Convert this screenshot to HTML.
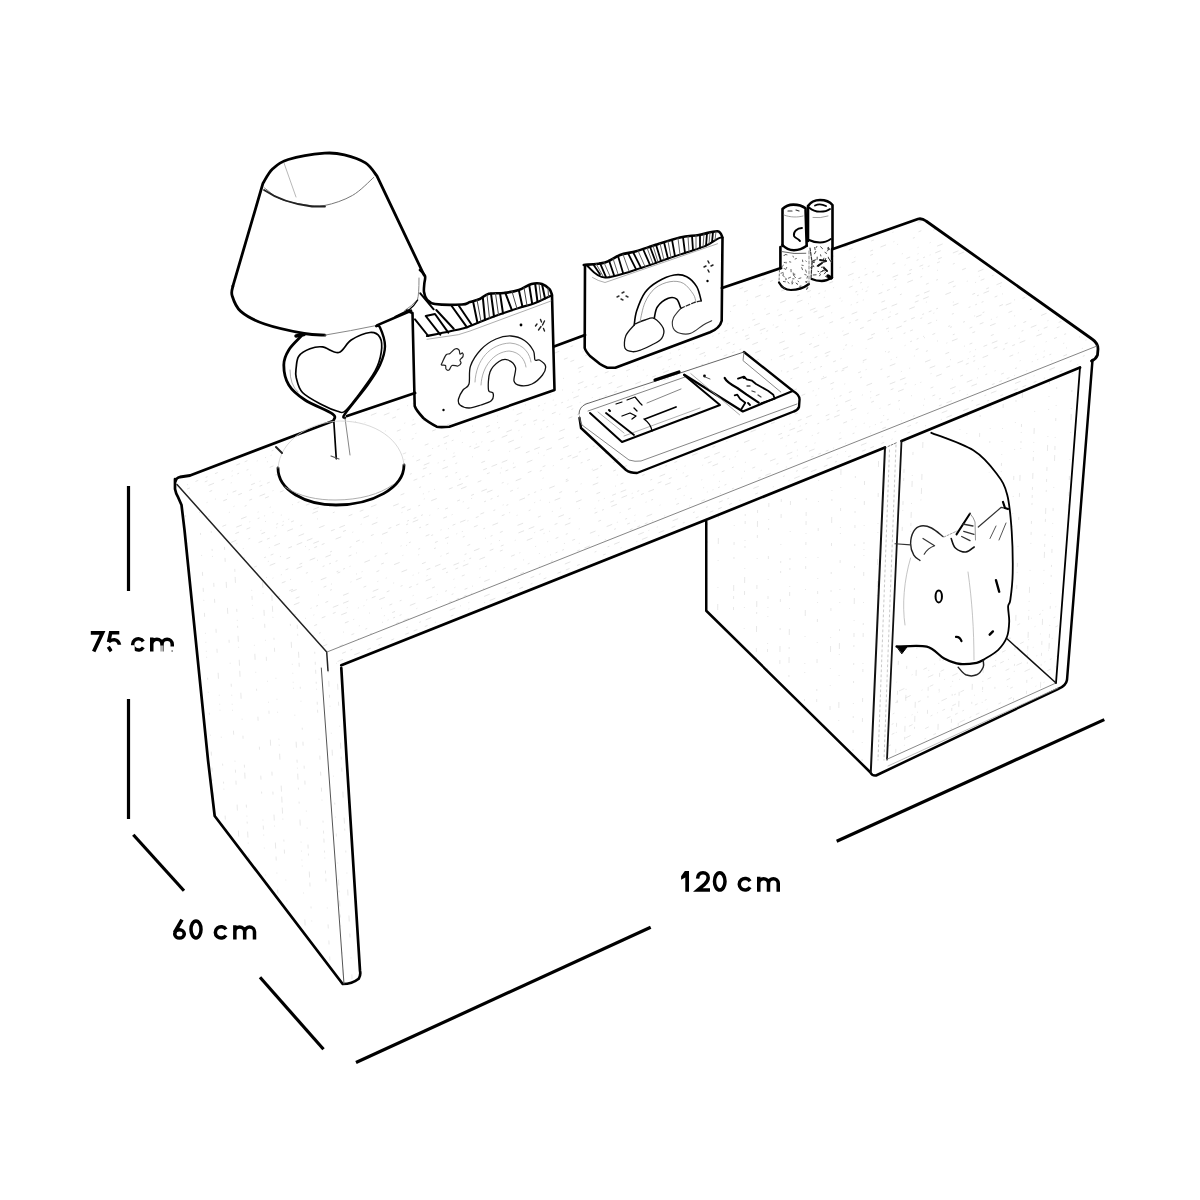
<!DOCTYPE html>
<html><head><meta charset="utf-8">
<style>
html,body{margin:0;padding:0;background:#fff;}
body{width:1200px;height:1200px;overflow:hidden;}
svg{display:block;}
.t{font-family:"Liberation Sans",sans-serif;font-weight:bold;fill:#000;}
</style></head><body>
<svg width="1200" height="1200" viewBox="0 0 1200 1200">
<rect width="1200" height="1200" fill="#fff"/>
<!-- texture -->
<defs>
<clipPath id="cTop"><path d="M176 480 L922 218 L1097 343 L1092 360 L1080 367 L341 665 L327 652 Z"/></clipPath>
<clipPath id="cLeg"><path d="M181 502 L214.7 816 L342.7 984 L358 976 L341 668 L327 652 L177 484 Z"/></clipPath>
<clipPath id="cCube"><path d="M706 521 L706 611 L871 773 L886 448 Z"/></clipPath>
<clipPath id="cIn"><path d="M900 441 L886 759 L1056 681 L1080 367 Z"/></clipPath>
</defs>
<g fill="none" stroke="#d4d4d4" stroke-width="0.6" clip-path="url(#cTop)"><path d="M150 418.9 L1120 30.0" stroke-dasharray="1 16 6 5 1 20 1 12 4 5 4 8 1 5 3 16 1 8 1 20 3 5 4 5" stroke-dashoffset="14"/><path d="M150 427.8 L1120 38.8" stroke-dasharray="4 5 4 20 3 5 1 5 4 8 2 16 1 20 1 20 2 20 6 8 1 20 4 26" stroke-dashoffset="12"/><path d="M150 433.2 L1120 44.3" stroke-dasharray="4 26 1 20 1 20 1 16 6 20 3 12 3 20 3 12 2 8 1 26 1 5 4 12" stroke-dashoffset="33"/><path d="M150 441.0 L1120 52.0" stroke-dasharray="2 26 3 12 4 5 1 20 3 8 2 8 3 16 1 26 1 20 4 12 2 26 2 20" stroke-dashoffset="31"/><path d="M150 448.5 L1120 59.5" stroke-dasharray="3 5 1 12 3 26 6 5 1 26 6 12 6 20 6 16 2 26 3 26 2 5 3 12" stroke-dashoffset="10"/><path d="M150 455.7 L1120 66.7" stroke-dasharray="3 5 1 12 1 26 1 16 3 16 1 8 3 16 4 12 1 16 4 12 6 16 2 26" stroke-dashoffset="24"/><path d="M150 464.7 L1120 75.8" stroke-dasharray="1 5 1 8 1 26 1 5 3 20 1 12 2 5 1 16 4 12 4 20 2 8 6 20" stroke-dashoffset="39"/><path d="M150 469.9 L1120 81.0" stroke-dasharray="6 5 3 26 4 16 3 16 3 5 3 26 3 5 1 5 1 16 1 5 2 20 1 5" stroke-dashoffset="0"/><path d="M150 476.4 L1120 87.4" stroke-dasharray="4 5 2 20 1 5 1 20 3 8 6 12 2 20 2 16 1 5 3 16 3 16 2 5" stroke-dashoffset="9"/><path d="M150 480.6 L1120 91.6" stroke-dasharray="2 26 2 16 6 8 4 5 1 20 2 8 6 20 1 20 2 26 1 26 2 20 2 8" stroke-dashoffset="22"/><path d="M150 491.6 L1120 102.7" stroke-dasharray="4 20 4 12 6 8 4 8 1 16 6 8 1 20 3 12 6 5 1 12 3 12 1 26" stroke-dashoffset="38"/><path d="M150 499.7 L1120 110.8" stroke-dasharray="3 26 2 12 1 8 1 8 3 8 2 8 3 20 4 5 3 26 2 26 1 26 1 16" stroke-dashoffset="12"/><path d="M150 503.9 L1120 114.9" stroke-dasharray="1 16 6 12 1 26 3 16 3 26 1 26 1 8 1 5 1 20 3 26 1 20 4 16" stroke-dashoffset="22"/><path d="M150 508.9 L1120 120.0" stroke-dasharray="4 8 1 5 6 26 1 20 6 8 3 8 1 5 2 8 2 20 1 20 2 12 4 16" stroke-dashoffset="8"/><path d="M150 515.4 L1120 126.4" stroke-dasharray="6 12 3 26 4 20 3 20 1 20 1 20 4 5 3 8 4 5 1 8 1 16 4 26" stroke-dashoffset="7"/><path d="M150 525.3 L1120 136.4" stroke-dasharray="2 26 4 20 4 16 1 20 1 8 1 12 1 5 4 16 4 5 1 16 2 20 4 20" stroke-dashoffset="32"/><path d="M150 530.2 L1120 141.2" stroke-dasharray="2 16 4 20 3 20 1 26 4 12 4 8 3 8 3 5 3 16 2 5 6 8 3 5" stroke-dashoffset="13"/><path d="M150 540.0 L1120 151.0" stroke-dasharray="1 8 6 26 6 12 1 12 1 16 1 26 1 16 3 8 6 8 1 26 3 20 3 12" stroke-dashoffset="26"/><path d="M150 544.2 L1120 155.2" stroke-dasharray="2 5 6 12 1 12 4 16 3 26 1 16 2 20 4 12 4 5 1 8 1 5 2 12" stroke-dashoffset="2"/><path d="M150 555.4 L1120 166.5" stroke-dasharray="1 12 1 16 6 12 3 8 4 20 4 16 6 12 1 12 1 26 1 16 1 12 1 26" stroke-dashoffset="5"/><path d="M150 561.8 L1120 172.8" stroke-dasharray="1 20 1 5 2 5 3 5 2 20 3 12 4 8 1 20 6 8 1 8 2 5 1 8" stroke-dashoffset="19"/><path d="M150 567.8 L1120 178.8" stroke-dasharray="4 8 2 16 4 26 1 12 2 5 2 5 1 5 6 20 4 8 4 16 1 16 1 26" stroke-dashoffset="27"/><path d="M150 574.9 L1120 186.0" stroke-dasharray="4 16 4 12 6 8 1 12 1 26 6 26 1 16 2 5 1 5 1 26 6 12 3 8" stroke-dashoffset="3"/><path d="M150 578.5 L1120 189.5" stroke-dasharray="3 20 6 12 4 8 6 12 1 16 1 8 2 16 1 12 2 12 4 12 1 5 2 8" stroke-dashoffset="22"/><path d="M150 586.1 L1120 197.1" stroke-dasharray="2 16 1 16 2 20 6 8 1 20 1 5 2 5 1 16 4 5 3 5 2 12 6 8" stroke-dashoffset="5"/><path d="M150 595.5 L1120 206.5" stroke-dasharray="4 8 6 26 4 16 2 26 3 8 2 26 4 26 1 5 6 20 6 16 6 26 4 8" stroke-dashoffset="33"/><path d="M150 603.5 L1120 214.5" stroke-dasharray="4 5 6 20 6 26 6 26 1 5 1 5 1 26 2 5 3 16 4 5 6 5 6 20" stroke-dashoffset="15"/><path d="M150 608.9 L1120 220.0" stroke-dasharray="1 16 1 26 4 20 1 26 4 5 6 26 3 12 1 12 1 26 1 8 6 26 3 16" stroke-dashoffset="24"/><path d="M150 613.5 L1120 224.5" stroke-dasharray="6 12 1 20 6 26 1 5 4 8 2 12 6 26 6 12 4 20 1 5 3 5 3 12" stroke-dashoffset="6"/><path d="M150 624.2 L1120 235.2" stroke-dasharray="6 16 2 26 4 12 3 16 3 5 4 8 2 5 3 5 2 16 1 20 3 12 3 8" stroke-dashoffset="13"/><path d="M150 627.4 L1120 238.5" stroke-dasharray="1 8 6 20 2 12 1 20 6 20 2 5 6 12 1 16 3 16 1 8 1 16 6 16" stroke-dashoffset="25"/><path d="M150 635.8 L1120 246.8" stroke-dasharray="1 16 2 16 2 5 2 5 2 12 3 5 1 26 1 26 2 12 2 5 3 16 4 5" stroke-dashoffset="23"/><path d="M150 646.6 L1120 257.6" stroke-dasharray="2 5 2 5 1 26 2 26 1 8 2 16 4 12 1 12 3 5 6 16 4 20 1 26" stroke-dashoffset="5"/><path d="M150 648.3 L1120 259.3" stroke-dasharray="6 16 3 20 1 26 2 16 1 20 1 8 3 16 2 12 2 12 6 26 6 12 3 26" stroke-dashoffset="15"/><path d="M150 656.8 L1120 267.8" stroke-dasharray="4 26 3 5 1 26 1 5 1 20 3 20 1 16 2 16 3 8 4 8 1 5 1 12" stroke-dashoffset="35"/><path d="M150 662.5 L1120 273.6" stroke-dasharray="1 12 2 20 1 5 6 16 3 16 6 20 1 16 2 12 1 16 2 20 2 8 6 20" stroke-dashoffset="33"/><path d="M150 672.8 L1120 283.8" stroke-dasharray="1 5 2 8 3 16 6 16 3 12 1 8 1 16 6 16 4 16 1 5 3 20 3 16" stroke-dashoffset="15"/><path d="M150 680.7 L1120 291.7" stroke-dasharray="1 8 1 20 6 5 6 26 6 16 1 20 1 5 1 8 4 5 6 26 2 8 6 12" stroke-dashoffset="33"/><path d="M150 686.8 L1120 297.8" stroke-dasharray="6 5 1 5 2 20 4 8 3 12 1 20 1 5 4 12 3 12 2 26 1 16 4 8" stroke-dashoffset="35"/><path d="M150 691.5 L1120 302.5" stroke-dasharray="3 26 6 12 1 5 1 16 6 26 3 5 2 8 6 16 2 8 3 5 6 12 6 16" stroke-dashoffset="23"/><path d="M150 701.1 L1120 312.1" stroke-dasharray="1 5 2 26 4 5 1 16 1 12 1 8 3 8 2 12 1 20 3 20 1 8 3 16" stroke-dashoffset="3"/><path d="M150 709.7 L1120 320.7" stroke-dasharray="1 16 1 8 1 20 1 16 1 26 1 8 3 16 6 12 6 5 1 8 2 8 1 26" stroke-dashoffset="33"/><path d="M150 715.5 L1120 326.5" stroke-dasharray="1 12 6 26 3 12 2 16 1 5 1 5 2 5 2 16 1 20 1 16 2 12 3 5" stroke-dashoffset="3"/><path d="M150 722.2 L1120 333.3" stroke-dasharray="1 12 4 16 1 12 2 26 3 5 6 16 1 26 3 5 3 5 3 5 1 12 1 26" stroke-dashoffset="4"/><path d="M150 730.4 L1120 341.4" stroke-dasharray="2 12 2 12 4 5 2 26 6 26 2 12 2 5 6 20 6 5 1 8 1 16 6 16" stroke-dashoffset="24"/><path d="M150 736.7 L1120 347.8" stroke-dasharray="3 16 1 16 1 5 6 12 6 8 4 8 2 12 3 12 4 5 4 8 3 8 1 16" stroke-dashoffset="4"/><path d="M150 742.9 L1120 353.9" stroke-dasharray="3 20 4 12 1 16 1 5 2 20 1 8 1 16 3 26 3 8 1 8 3 16 4 26" stroke-dashoffset="15"/><path d="M150 750.5 L1120 361.5" stroke-dasharray="6 5 2 12 2 20 2 12 2 26 2 8 3 8 1 8 1 8 2 20 1 12 1 16" stroke-dashoffset="16"/><path d="M150 759.0 L1120 370.0" stroke-dasharray="4 20 1 26 1 26 3 5 1 5 3 8 3 12 1 12 1 5 1 8 4 20 1 5" stroke-dashoffset="23"/><path d="M150 763.1 L1120 374.1" stroke-dasharray="1 16 4 12 6 5 1 26 4 26 4 12 1 5 2 12 1 5 1 12 1 20 6 26" stroke-dashoffset="13"/><path d="M150 771.9 L1120 382.9" stroke-dasharray="2 16 6 12 1 20 2 5 1 5 3 20 3 5 3 5 3 26 4 8 6 20 1 26" stroke-dashoffset="10"/><path d="M150 776.4 L1120 387.4" stroke-dasharray="2 16 2 26 2 16 1 12 6 20 2 16 3 5 2 26 1 16 6 16 1 5 3 8" stroke-dashoffset="27"/><path d="M150 781.7 L1120 392.7" stroke-dasharray="1 16 4 12 3 8 1 5 1 20 1 26 3 5 4 20 2 26 4 8 1 12 2 8" stroke-dashoffset="33"/><path d="M150 789.0 L1120 400.1" stroke-dasharray="1 5 3 16 1 12 1 5 3 12 1 20 6 16 1 26 4 26 1 26 1 20 3 20" stroke-dashoffset="12"/><path d="M150 800.0 L1120 411.0" stroke-dasharray="1 20 1 5 3 20 1 16 2 5 1 8 6 8 1 20 6 5 6 12 1 16 4 16" stroke-dashoffset="35"/><path d="M150 807.1 L1120 418.1" stroke-dasharray="2 26 3 12 4 8 3 16 6 12 3 20 3 8 1 5 4 16 3 8 3 20 3 8" stroke-dashoffset="30"/><path d="M150 811.4 L1120 422.4" stroke-dasharray="1 8 2 16 2 5 3 20 4 26 1 5 6 8 1 26 2 26 4 5 1 20 3 26" stroke-dashoffset="8"/><path d="M150 816.2 L1120 427.2" stroke-dasharray="1 20 6 26 1 8 1 16 2 8 6 26 1 5 2 20 2 8 2 20 2 16 1 12" stroke-dashoffset="32"/><path d="M150 828.8 L1120 439.8" stroke-dasharray="3 8 4 12 4 20 1 12 2 5 1 8 3 8 6 12 6 12 3 8 2 5 4 5" stroke-dashoffset="40"/><path d="M150 835.1 L1120 446.2" stroke-dasharray="3 20 4 20 6 5 2 20 6 16 6 12 2 16 2 20 1 12 2 5 3 8 1 20" stroke-dashoffset="3"/></g>
<g fill="none" stroke="#d8d8d8" stroke-width="0.6" clip-path="url(#cLeg)"><path d="M183.8 480 L208.8 990" stroke-dasharray="4 12 2 26 4 26 2 26 1 26 1 8 1 12 4 26 3 16 4 12 1 8 3 8" stroke-dashoffset="39"/><path d="M197.9 480 L222.9 990" stroke-dasharray="1 5 1 20 2 12 1 20 2 20 1 16 4 12 4 8 1 12 4 16 1 8 1 8" stroke-dashoffset="9"/><path d="M208.7 480 L233.7 990" stroke-dasharray="1 26 1 26 2 16 2 5 1 26 4 12 4 26 4 16 4 20 6 16 1 8 1 5" stroke-dashoffset="3"/><path d="M221.2 480 L246.2 990" stroke-dasharray="3 8 1 8 1 5 1 20 4 26 1 8 3 8 4 20 6 20 6 26 3 20 1 20" stroke-dashoffset="19"/><path d="M230.4 480 L255.4 990" stroke-dasharray="6 5 6 16 6 20 1 16 3 26 3 5 6 26 3 8 1 5 2 8 6 5 1 12" stroke-dashoffset="16"/><path d="M246.3 480 L271.3 990" stroke-dasharray="2 26 4 26 3 26 4 12 2 26 1 5 4 5 1 12 1 26 1 8 6 12 1 16" stroke-dashoffset="21"/><path d="M257.6 480 L282.6 990" stroke-dasharray="3 26 6 26 4 16 3 20 6 5 1 16 6 8 4 12 1 16 4 20 1 20 1 8" stroke-dashoffset="2"/><path d="M266.2 480 L291.2 990" stroke-dasharray="1 20 1 12 1 26 1 5 1 8 6 26 6 5 6 5 6 5 1 20 2 8 4 26" stroke-dashoffset="4"/><path d="M283.3 480 L308.3 990" stroke-dasharray="6 16 1 8 1 8 1 5 1 26 1 26 6 12 3 5 1 5 6 8 2 12 2 16" stroke-dashoffset="16"/><path d="M290.1 480 L315.1 990" stroke-dasharray="2 12 1 26 2 12 4 20 3 12 4 26 1 16 1 16 4 5 2 16 6 5 4 20" stroke-dashoffset="13"/><path d="M306.3 480 L331.3 990" stroke-dasharray="1 20 2 8 3 5 4 8 2 5 1 12 3 5 3 26 1 16 4 12 4 12 4 8" stroke-dashoffset="18"/><path d="M318.9 480 L343.9 990" stroke-dasharray="6 8 3 8 1 26 1 16 6 20 1 26 2 12 1 16 3 26 1 16 6 5 2 8" stroke-dashoffset="19"/><path d="M327.6 480 L352.6 990" stroke-dasharray="4 20 1 16 6 8 3 8 4 20 6 20 6 5 2 20 2 20 1 16 6 20 6 12" stroke-dashoffset="10"/><path d="M340.8 480 L365.8 990" stroke-dasharray="6 12 4 8 1 12 3 26 6 8 4 8 2 12 6 20 1 26 1 8 6 12 4 20" stroke-dashoffset="22"/></g>
<g fill="none" stroke="#d8d8d8" stroke-width="0.6" clip-path="url(#cCube)"><path d="M708.0 440 L705.0 780" stroke-dasharray="2 8 2 26 1 8 6 5 1 16 1 8 2 26 2 16 2 8 1 26 1 12 1 16" stroke-dashoffset="29"/><path d="M719.2 440 L716.2 780" stroke-dasharray="3 16 6 8 4 26 2 16 1 8 2 20 6 16 1 26 1 16 6 20 4 26 6 16" stroke-dashoffset="14"/><path d="M735.0 440 L732.0 780" stroke-dasharray="6 26 6 20 1 26 1 26 1 16 3 12 2 26 6 5 3 8 3 26 6 26 1 12" stroke-dashoffset="27"/><path d="M745.9 440 L742.9 780" stroke-dasharray="1 20 3 20 6 26 1 26 2 5 3 16 1 5 2 20 1 8 6 8 4 12 1 20" stroke-dashoffset="29"/><path d="M758.2 440 L755.2 780" stroke-dasharray="6 16 4 5 6 12 4 12 3 26 3 8 6 8 3 20 1 26 4 12 6 5 2 12" stroke-dashoffset="24"/><path d="M769.4 440 L766.4 780" stroke-dasharray="1 5 3 16 6 26 6 12 4 12 1 8 2 26 3 20 1 16 3 8 1 8 1 26" stroke-dashoffset="12"/><path d="M781.8 440 L778.8 780" stroke-dasharray="4 26 1 8 2 26 6 16 3 12 4 26 1 16 2 8 2 26 3 26 2 16 6 8" stroke-dashoffset="30"/><path d="M791.0 440 L788.0 780" stroke-dasharray="6 12 2 8 6 12 2 16 3 16 4 26 1 26 2 8 2 16 1 5 4 12 1 20" stroke-dashoffset="22"/><path d="M806.8 440 L803.8 780" stroke-dasharray="1 26 1 8 1 26 2 12 4 5 4 8 1 8 3 12 1 8 3 20 1 20 6 20" stroke-dashoffset="5"/><path d="M819.0 440 L816.0 780" stroke-dasharray="4 26 2 8 3 26 1 20 1 26 3 26 1 20 1 12 3 8 1 16 3 20 1 16" stroke-dashoffset="29"/><path d="M832.4 440 L829.4 780" stroke-dasharray="6 16 1 16 1 20 4 26 1 8 2 16 6 20 3 26 2 16 2 16 3 26 1 8" stroke-dashoffset="40"/><path d="M841.2 440 L838.2 780" stroke-dasharray="6 5 1 20 1 26 6 12 1 20 3 16 1 5 1 26 3 26 1 12 1 26 2 12" stroke-dashoffset="30"/><path d="M855.7 440 L852.7 780" stroke-dasharray="4 8 2 16 2 16 2 20 1 12 2 12 3 16 2 20 2 20 2 8 6 16 1 12" stroke-dashoffset="12"/><path d="M864.9 440 L861.9 780" stroke-dasharray="2 8 4 26 1 5 3 26 4 16 4 20 1 16 2 5 1 5 1 16 4 26 1 20" stroke-dashoffset="34"/><path d="M878.7 440 L875.7 780" stroke-dasharray="4 8 6 26 6 26 4 26 1 8 1 26 6 16 6 8 1 26 1 5 3 5 6 5" stroke-dashoffset="23"/></g>
<g fill="none" stroke="#d8d8d8" stroke-width="0.6" clip-path="url(#cIn)"><path d="M907.2 360 L895.2 770" stroke-dasharray="1 12 4 26 2 12 1 16 1 12 1 16 4 26 4 5 3 20 4 5 1 16 4 26" stroke-dashoffset="25"/><path d="M915.7 360 L903.7 770" stroke-dasharray="1 26 3 20 4 26 1 16 3 20 1 5 6 16 1 8 6 5 3 5 1 26 6 5" stroke-dashoffset="5"/><path d="M925.3 360 L913.3 770" stroke-dasharray="1 8 3 5 2 26 4 8 3 26 6 8 1 12 6 26 6 8 6 5 2 26 4 26" stroke-dashoffset="31"/><path d="M937.8 360 L925.8 770" stroke-dasharray="2 5 6 5 1 5 1 26 6 20 1 16 2 12 6 20 1 16 4 5 2 12 4 26" stroke-dashoffset="28"/><path d="M948.8 360 L936.8 770" stroke-dasharray="1 8 1 12 6 8 6 16 3 16 3 12 4 12 2 12 1 20 6 26 4 12 4 26" stroke-dashoffset="0"/><path d="M962.0 360 L950.0 770" stroke-dasharray="4 12 4 16 1 16 3 26 3 20 1 16 2 26 1 12 2 12 3 8 4 5 2 8" stroke-dashoffset="36"/><path d="M968.9 360 L956.9 770" stroke-dasharray="4 26 3 12 4 5 4 20 3 16 1 26 1 12 4 5 6 16 3 26 1 12 4 5" stroke-dashoffset="24"/><path d="M981.8 360 L969.8 770" stroke-dasharray="1 20 2 5 1 16 4 20 2 20 2 16 4 20 1 8 1 8 1 8 6 12 2 20" stroke-dashoffset="36"/><path d="M992.2 360 L980.2 770" stroke-dasharray="4 8 1 5 3 12 1 12 6 16 1 8 2 20 1 12 2 20 4 5 1 5 1 20" stroke-dashoffset="31"/><path d="M1004.5 360 L992.5 770" stroke-dasharray="1 12 2 16 1 16 4 20 1 12 1 12 1 8 3 5 1 5 1 20 2 26 3 16" stroke-dashoffset="4"/><path d="M1017.2 360 L1005.2 770" stroke-dasharray="6 16 1 26 1 12 2 20 1 26 1 26 4 16 1 16 1 12 1 26 1 8 1 12" stroke-dashoffset="22"/><path d="M1023.4 360 L1011.4 770" stroke-dasharray="4 5 1 12 4 26 6 26 3 5 1 8 2 5 1 26 6 12 4 20 3 26 1 16" stroke-dashoffset="20"/><path d="M1036.2 360 L1024.2 770" stroke-dasharray="3 5 2 16 3 8 3 8 1 26 1 16 6 8 1 8 1 5 4 12 6 8 3 5" stroke-dashoffset="24"/><path d="M1050.1 360 L1038.1 770" stroke-dasharray="6 5 3 12 2 8 3 5 6 12 1 12 1 26 1 8 6 16 4 8 3 8 2 16" stroke-dashoffset="26"/><path d="M1057.5 360 L1045.5 770" stroke-dasharray="1 12 4 12 2 8 2 16 1 12 3 16 1 8 4 5 6 26 1 20 3 12 1 12" stroke-dashoffset="12"/><path d="M1072.8 360 L1060.8 770" stroke-dasharray="3 12 1 8 1 16 2 16 1 5 6 12 1 26 1 16 4 12 4 8 3 5 4 12" stroke-dashoffset="11"/><path d="M880 690 L1070 600" stroke-dasharray="2 16 1 16 1 12 4 8 1 8 4 8 6 8 1 20 1 5 4 26 3 12 1 8"/><path d="M880 700 L1070 610" stroke-dasharray="1 20 6 26 6 8 4 12 1 5 1 26 6 20 3 26 1 20 2 12 2 26 3 5"/><path d="M880 710 L1070 620" stroke-dasharray="1 16 3 8 6 12 1 8 4 12 1 8 6 12 4 20 1 12 4 16 4 5 1 12"/><path d="M880 720 L1070 630" stroke-dasharray="6 8 2 26 3 20 1 12 1 26 3 16 4 5 4 20 1 5 1 5 1 20 1 8"/><path d="M880 730 L1070 640" stroke-dasharray="1 12 2 20 1 5 1 26 6 8 2 5 4 26 4 16 4 8 6 16 1 12 1 26"/><path d="M880 740 L1070 650" stroke-dasharray="1 5 2 5 3 16 4 20 2 5 1 5 3 8 4 20 1 8 1 26 4 16 6 16"/><path d="M880 750 L1070 660" stroke-dasharray="1 5 6 16 6 16 4 20 4 5 3 5 2 12 3 8 2 26 3 20 2 16 4 5"/><path d="M880 760 L1070 670" stroke-dasharray="2 20 1 26 2 8 3 26 6 5 2 5 4 8 1 12 3 8 4 26 1 8 1 16"/></g>
<g fill="#fff" stroke="none"><ellipse cx="341" cy="463" rx="63" ry="42"/><path d="M412.5 313 L424 292 L552 290 L554.5 390 L436 427 L414.7 406 Z"/><path d="M585 265 L722.5 231 L721.7 320.7 L607 368 L584.7 348 Z"/><path d="M779 208 L793 204 L808 203 L820 199 L833 204 L832 278 L821 281 L809 284 L791 291 L779 283 Z"/><path d="M579 412 L744 352 L800 397 L799 407 L637 473 L581 428 Z"/><path d="M931 433 C975 445 1005 480 1013 537 L1013 583 L1008 637 L983 660 L978 674 L966 674 L959 667 L927 646 L898 648 L900 544 L910 546 L917 530 Z"/></g>
<!-- dimension lines -->
<g stroke="#000" stroke-width="3.2" fill="none" stroke-linecap="butt">
<path d="M128.5 486 V591 M128.5 699 V819"/>
<path d="M133.3 834.7 L184 890.7"/>
<path d="M260 977.3 L323.5 1049.3"/>
<path d="M356 1062.5 L650.7 927.3"/>
<path d="M836.7 841.3 L1104.3 719.6"/>
</g>
<!-- desk -->
<g id="desk" stroke="#000" stroke-width="2.7" fill="none" stroke-linejoin="round" stroke-linecap="round">
<!-- back edge segments -->
<path d="M175.5 481 Q176 478 180 477 L190 475.5 L333 421 M347 416 L415 393" stroke-width="2.8"/>
<path d="M554 346.5 L585 335" stroke-width="2.8"/>
<path d="M722 288 L781 268" stroke-width="2.8"/>
<path d="M833 249 L918 219 Q922 218 926 221 L1092 339 Q1098 343 1098 349 L1097.5 355 Q1096 359 1091.5 361" stroke-width="2.8"/>
<!-- left leg -->
<path d="M175 479 L175 489 Q176 494 178 497 L181.5 505 L184.5 530 L208 760 L214.7 816 L342.7 984 Q352 984 358.7 978.7 Q361 975 360 970.7 L346.7 760 L341.3 668"/>
<path d="M177 484.5 L326.7 652 L328 670.7" stroke-width="1.5" stroke="#222"/>
<path d="M321.3 668 L344 984" stroke-width="1" stroke="#555"/>
<!-- front apron bottom -->
<path d="M341.3 665.3 L706.25 519.75 L885 447.5 M901.5 441 L1080 367.5"/><path d="M888 446.5 L897 442.5" stroke-width="1" stroke="#777" stroke-dasharray="2 1.5"/>
<path d="M327 652 L1097 346" stroke-width="0.9" stroke="#777"/>
<!-- cube -->
<path d="M706.25 521.5 L706.25 610.75 L870 772 Q872 776 876 775.5 L1058 689 Q1066 686 1067 680 L1092.5 360" stroke-width="2.5"/>
<path d="M885 447.5 L870.8 772" stroke-width="2" stroke="#111"/>
<path d="M901.5 441 L887 759.5" stroke-width="1.8" stroke="#111"/><path d="M889.5 450 L878 760 M896 445 L884 760" stroke-width="0.8" stroke="#bbb" stroke-dasharray="2 3"/><path d="M886.5 759.5 L1056 683" stroke-width="1" stroke="#888"/><path d="M888 766 L1058 688" stroke-width="0.8" stroke="#aaa"/><path d="M1056 683 L1080 367.5" stroke-width="1.8"/>
<path d="M1007 638.75 L1056 683" stroke-width="1.5" stroke="#111"/>
</g>
<!-- lamp -->
<g id="lamp" stroke="#000" fill="none" stroke-linejoin="round" stroke-linecap="round">
<path d="M232.9 286.1 L263 183.2 C264.6 180.8 268.3 172.9 272.5 169.0 C276.7 165.1 279.6 162.1 288.3 159.5 C297.0 156.9 315.4 154.0 324.7 153.2 C334.0 152.4 337.6 153.2 344.4 154.8 C351.2 156.4 360.1 159.4 365.5 162.9 C370.9 166.4 375.0 173.7 376.9 175.9 L424 275" stroke-width="2.8"/>
<path d="M232.9 286.1 C232.8 287.7 230.8 291.4 232.1 295.6 C233.4 299.8 235.4 306.7 240.8 311.4 C246.2 316.1 254.1 320.3 264.6 324.0 C275.2 327.7 294.0 331.6 304.1 333.5 C314.2 335.4 321.5 334.8 325.0 335.1" stroke-width="2.8"/>
<path d="M325 335.1 Q350 331 376.9 325.4" stroke-width="1" stroke="#888"/>
<path d="M419 278 Q419 295 417.5 299.4 Q412 306 404.5 310.7" stroke-width="1" stroke="#888"/>
<path d="M376.9 325.4 L411 310.7" stroke-width="2.6"/>
<path d="M264.6 188.0 C267.2 189.8 273.8 196.2 280.4 199.0 C287.0 201.8 296.7 203.5 304.1 204.6 C311.5 205.7 316.9 206.9 325.0 205.4 C333.1 203.9 344.4 200.1 352.5 195.4 C360.6 190.8 370.1 180.5 373.6 177.5" stroke-width="1.0" stroke="#777"/>
<path d="M264 190 Q283 203 312 206.5 L325 206.5" stroke-width="1.8" stroke="#222"/>
<path d="M284 163 L296 197" stroke-width="0.7" stroke="#999"/>
<path d="M301.2 336.2 C299.2 338.5 291.7 345.2 288.8 350.0 C285.8 354.8 283.8 359.2 283.8 365.0 C283.8 370.8 285.2 379.2 288.8 385.0 C292.3 390.8 297.7 395.2 305.0 400.0 C312.3 404.8 327.7 410.4 332.5 413.8 C337.3 417.1 333.5 419.0 333.8 420.0" stroke-width="2.8"/>
<path d="M345.0 418.0 C345.0 417.3 341.2 419.2 345.0 413.8 C348.8 408.2 361.7 393.1 367.5 385.0 C373.3 376.9 377.1 371.5 380.0 365.0 C382.9 358.5 385.0 352.5 385.0 346.2 C385.0 340.0 381.5 330.8 380.0 327.5 C378.5 324.2 376.9 326.5 376.2 326.2" stroke-width="2.4"/>
<path d="M296 336 L304 334.5" stroke-width="3.5"/>
<path d="M296.2 367.5 C296.7 364.0 296.5 359.4 298.8 356.2 C301.0 353.1 306.0 350.3 310.0 348.8 C314.0 347.2 317.7 346.3 322.5 346.9 C327.3 347.5 334.0 353.6 338.8 352.5 C343.5 351.4 346.0 343.3 351.2 340.0 C356.5 336.7 365.2 332.9 370.0 332.5 C374.8 332.1 378.1 334.2 380.0 337.5 C381.9 340.8 382.1 346.9 381.2 352.5 C380.4 358.1 379.0 364.0 375.0 371.2 C371.0 378.5 362.5 389.6 357.5 396.2 C352.5 402.9 348.3 408.8 345.0 411.2 C341.7 413.8 341.2 412.3 337.5 411.2 C333.8 410.2 328.3 408.1 322.5 405.0 C316.7 401.9 306.9 397.1 302.5 392.5 C298.1 387.9 297.3 381.7 296.2 377.5 C295.2 373.3 295.8 371.0 296.2 367.5 Z" stroke-width="1.7"/>
<path d="M290 370 Q290 385 298 392" stroke-width="0.8" stroke="#999"/>
<path d="M333.75 420 L336.25 458.75" stroke-width="1.7"/>
<path d="M345 418 L350 455" stroke-width="0.9" stroke="#777"/>
<path d="M331 456 L339 459" stroke-width="1.2" stroke="#555"/>
<path d="M278 468 C278 490 305 505 336 505 C372 505 404 488 404 465" stroke-width="2.8"/>
<path d="M278 468 C280 440 310 422 340 421 C375 421 402 440 404 465" stroke-width="0.8" stroke="#cfcfcf"/>
<path d="M285 487 C300 497 318 500 335 500 C360 500 380 494 392.5 485" stroke-width="0.8" stroke="#999"/>
<path d="M276 447 L282 453" stroke-width="2" stroke="#222"/>
</g>
<!-- basket 1 -->
<g id="b1" stroke="#000" fill="none" stroke-linejoin="round" stroke-linecap="round">
<path d="M420.0 270.0 C420.8 271.0 424.3 273.7 425.0 276.0 C425.7 278.3 424.5 281.3 424.3 284.0 C424.1 286.7 423.6 289.4 424.0 292.0 C424.4 294.6 425.2 297.5 427.0 299.5 C428.8 301.5 429.2 303.2 435.0 304.0 C440.8 304.8 456.2 304.8 462.0 304.5 C467.8 304.2 467.0 302.9 470.0 302.0 C473.0 301.1 476.6 300.4 479.8 299.0 C482.9 297.6 484.8 294.8 488.8 293.8 C492.8 292.8 498.8 293.6 503.8 293.0 C508.8 292.4 514.1 291.5 518.8 290.0 C523.4 288.5 527.6 285.0 531.5 284.0 C535.4 283.0 539.0 283.1 542.0 284.0 C545.0 284.9 547.8 287.4 549.5 289.2 C551.2 291.1 551.6 294.0 552.0 295.0 L554.5 390 L480 416 L449.3 426.7 Q440 427.5 436.7 426.7 Q428 422 423.3 418 Q416 410 414.7 406 L412.5 313 L407 310.7" stroke-width="2.6"/>
<path d="M427.0 336.0 C432.8 334.8 454.5 330.4 461.7 328.7 C468.9 327.0 464.9 327.9 470.0 326.0 C475.1 324.1 484.4 320.0 492.5 317.0 C500.6 314.0 511.9 310.2 518.8 308.0 C525.6 305.8 528.2 305.6 533.8 303.5 C539.3 301.4 549.0 296.6 552.0 295.2" stroke-width="2.2"/>
<path d="M427 339.3 L458.3 334.7 L470 331 L551 301" stroke-width="0.8" stroke="#999"/>
<path d="M417.7 300 Q414 306 409.7 309.3 L395 316.7" stroke-width="1.4"/>
<path d="M415 319.3 L428.3 336 M425.7 316 L440.3 334.7 M425.7 316 L435 314 L448.3 332.7 M436.3 310 L453.7 328.7 M451.7 306 L467 327.3 M459 306 L471.7 324.7 M420.3 293.3 L433.7 309.3" stroke-width="2"/>
<path d="M473.0 301.1 L477.5 323.0 M482.8 297.2 L485.0 320.0 M491.0 293.6 L494.0 316.5 M500.0 293.2 L503.0 313.4 M505.2 292.7 L512.0 310.3 M518.8 290.0 L522.5 306.9 M529.2 285.1 L532.2 303.9 M535.2 284.0 L537.5 301.8 M542.0 284.0 L545.0 298.4 " stroke-width="2.0" stroke="#000"/>
<path d="M477.0 299.8 L481.0 321.6 M487.0 294.8 L489.5 318.2 M495.5 293.4 L498.5 314.9 M512.0 291.4 L517.0 308.6 M524.0 287.5 L527.0 305.5 M539.0 284.0 L541.0 300.2 M548.0 288.2 L548.5 296.8 " stroke-width="1.0" stroke="#444"/>
<path d="M469.0 384.0 C470.2 380.0 468.5 371.8 470.5 366.0 C472.5 360.2 476.8 354.0 481.0 349.5 C485.2 345.0 491.0 341.2 496.0 339.0 C501.0 336.8 506.2 335.8 511.0 336.0 C515.8 336.2 520.8 338.0 524.5 340.5 C528.2 343.0 531.8 347.8 533.5 351.0 C535.2 354.2 534.0 358.5 535.0 360.0 C536.0 361.5 537.8 359.0 539.5 360.0 C541.2 361.0 545.0 363.5 545.5 366.0 C546.0 368.5 544.8 372.0 542.5 375.0 C540.2 378.0 535.8 382.2 532.0 384.0 C528.2 385.8 523.0 386.0 520.0 385.5 C517.0 385.0 514.8 384.0 514.0 381.0 C513.2 378.0 516.5 371.0 515.5 367.5 C514.5 364.0 510.8 361.0 508.0 360.0 C505.2 359.0 502.0 359.5 499.0 361.5 C496.0 363.5 491.8 367.2 490.0 372.0 C488.2 376.8 488.0 386.5 488.5 390.0 C489.0 393.5 492.5 391.2 493.0 393.0 C493.5 394.8 493.5 398.5 491.5 400.5 C489.5 402.5 484.8 403.8 481.0 405.0 C477.2 406.2 472.5 408.0 469.0 408.0 C465.5 408.0 461.8 406.5 460.0 405.0 C458.2 403.5 458.0 401.5 458.5 399.0 C459.0 396.5 461.2 392.5 463.0 390.0 C464.8 387.5 467.8 388.0 469.0 384.0 Z" stroke-width="1.3" stroke="#111"/>
<path d="M475 382 C476 360 490 344 510 343 C525 344 530 355 531 362 M481 385 C482 366 494 352 509 351 C520 352 525 360 526 367" stroke-width="0.8" stroke="#999"/>
<path d="M442.0 363.0 C442.8 361.3 444.7 356.6 446.0 355.0 C447.3 353.4 448.5 354.5 450.0 353.5 C451.5 352.5 453.5 349.6 455.0 349.0 C456.5 348.4 458.2 349.2 459.0 350.0 C459.8 350.8 459.4 353.5 460.0 354.0 C460.6 354.5 462.0 352.6 462.5 353.0 C463.0 353.4 463.4 355.3 463.0 356.5 C462.6 357.7 460.3 358.9 460.0 360.0 C459.7 361.1 461.3 362.0 461.0 363.0 C460.7 364.0 459.5 365.6 458.0 366.0 C456.5 366.4 453.5 364.8 452.0 365.5 C450.5 366.2 450.0 369.4 449.0 370.0 C448.0 370.6 446.6 369.8 446.0 369.0 C445.4 368.2 446.2 366.2 445.5 365.5 C444.8 364.8 442.1 365.4 441.5 365.0 C440.9 364.6 441.2 364.7 442.0 363.0 Z" stroke-width="1.2" stroke="#222"/>
<path d="M540.5 319.5 L541.5 322 M544.5 321 L542.5 325 M541 326.5 L538.5 330 M537 324 L535.5 326 M543.5 328.5 L544.5 331" stroke-width="1.4" stroke="#222"/>
<circle cx="521" cy="325" r="1.4" fill="#000" stroke="none"/>
<circle cx="443.5" cy="410" r="1.2" fill="#000" stroke="none"/>
</g>
<!-- basket 2 -->
<g id="b2" stroke="#000" fill="none" stroke-linejoin="round" stroke-linecap="round">
<path d="M583.8 265.0 C587.3 264.6 599.0 264.2 605.0 262.5 C611.0 260.8 614.8 256.9 620.0 255.0 C625.2 253.1 630.4 252.9 636.2 251.2 C642.1 249.6 647.7 247.3 655.0 245.0 C662.3 242.7 672.7 239.2 680.0 237.5 C687.3 235.8 692.5 236.0 698.8 235.0 C705.0 234.0 713.5 230.8 717.5 231.2 C721.5 231.7 721.7 236.5 722.5 237.5 L721.7 320.7 Q720 328 710 332.3 L615.3 367.7 L607.3 367.7 Q603 366 600 364 L590 356 Q585.5 351 584.7 348 L585 265" stroke-width="2.6"/>
<path d="M587.5 266.2 C590.4 268.1 595.8 277.3 605.0 277.5 C614.2 277.7 632.1 270.6 642.5 267.5 C652.9 264.4 660.2 261.2 667.5 258.8 C674.8 256.2 680.0 254.6 686.2 252.5 C692.5 250.4 699.8 248.5 705.0 246.2 C710.2 244.0 714.6 240.2 717.5 238.8 C720.4 237.3 721.7 237.7 722.5 237.5" stroke-width="2.0"/>
<path d="M592.5 277.5 Q598 281 605 282.5 L717.5 243.75" stroke-width="0.8" stroke="#999"/>
<path d="M593.0 263.9 L600.0 274.3 M600.0 263.1 L606.0 277.2 M609.0 260.5 L614.0 275.1 M618.0 256.0 L623.0 272.7 M628.0 253.2 L636.0 269.2 M633.0 252.0 L641.0 267.9 M643.0 249.0 L650.0 264.9 M650.0 246.7 L656.0 262.8 M656.0 244.7 L661.0 261.0 M664.0 242.3 L668.0 258.6 M672.0 239.9 L675.0 256.2 M683.0 237.1 L685.0 252.9 M692.0 235.9 L693.0 250.2 M700.0 234.8 L700.0 247.9 M707.0 233.3 L706.0 245.7 M713.0 232.2 L712.0 242.1 " stroke-width="1.8" stroke="#000"/>
<path d="M596.0 263.6 L603.0 276.2 M604.0 262.6 L610.0 276.2 M613.0 258.5 L618.0 274.0 M623.0 254.3 L629.0 271.1 M638.0 250.7 L645.0 266.6 M647.0 247.7 L653.0 263.8 M653.0 245.7 L658.0 262.1 M660.0 243.5 L664.0 260.0 M668.0 241.1 L671.0 257.6 M678.0 238.1 L680.0 254.6 M688.0 236.4 L689.0 251.6 M696.0 235.4 L696.0 249.2 M704.0 233.9 L703.0 246.9 M710.0 232.8 L709.0 243.8 M716.0 231.6 L715.0 240.2 " stroke-width="0.9" stroke="#555"/>
<path d="M634.2 325.0 C634.6 322.6 634.9 316.2 636.7 310.8 C638.5 305.4 641.5 297.4 645.0 292.5 C648.5 287.6 652.6 284.6 657.5 281.7 C662.4 278.8 669.3 275.8 674.2 275.0 C679.1 274.2 683.0 274.8 686.7 276.7 C690.5 278.6 694.3 282.7 696.7 286.7 C699.1 290.7 700.5 298.4 701.2 300.8" stroke-width="1.6"/>
<path d="M701.25 300.8 L694.2 302.5 L680.8 308.3" stroke-width="1.3" stroke="#222" stroke-dasharray="4 2"/>
<path d="M654.2 318.3 C654.8 316.4 655.1 310.0 657.5 306.7 C659.9 303.4 665.1 299.6 668.3 298.3 C671.5 297.1 674.6 297.5 676.7 299.2 C678.8 300.9 680.1 306.8 680.8 308.3" stroke-width="1.6"/>
<path d="M634.2 325.0 C632.4 327.1 627.3 331.9 625.8 335.8 C624.3 339.7 623.9 345.7 625.0 348.3 C626.1 350.9 629.9 351.4 632.5 351.7 C635.1 352.0 637.6 351.1 640.8 350.0 C644.0 348.9 648.2 346.9 651.7 345.0 C655.2 343.1 659.8 341.1 661.7 338.3 C663.6 335.5 664.5 331.6 663.3 328.3 C662.0 325.0 657.2 319.7 654.2 318.3 C651.2 316.9 647.9 319.2 645.0 320.0 C642.1 320.8 638.5 322.5 636.7 323.3 C634.9 324.1 636.0 322.9 634.2 325.0 Z" stroke-width="1.3" stroke="#111"/>
<path d="M680.8 308.3 C679.5 310.0 674.5 315.0 673.3 318.3 C672.0 321.6 672.2 325.8 673.3 328.3 C674.4 330.8 677.1 332.5 680.0 333.3 C682.9 334.1 686.9 334.7 690.8 333.3 C694.7 331.9 699.8 327.1 703.3 325.0 C706.8 322.9 710.3 321.5 711.7 320.8" stroke-width="1.1" stroke="#333"/>
<path d="M640.0 321.7 C640.8 318.5 642.5 308.1 645.0 302.5 C647.5 296.9 650.8 291.8 655.0 288.3 C659.2 284.8 665.3 282.5 670.0 281.7 C674.7 280.9 679.4 281.2 683.3 283.3 C687.2 285.4 691.2 291.1 693.3 294.2 C695.4 297.3 695.4 300.4 695.8 301.7" stroke-width="0.8" stroke="#888"/>
<path d="M617 297 L619 296 M622 293 L624 292 M621 299 L623 300 M626 296 L628 297" stroke-width="1.4" stroke="#333"/>
<path d="M708 261 L709 263 M704 267 L706 266 M711 266 L713 265 M708 270 L709 272" stroke-width="1.5" stroke="#222"/>
<circle cx="707.5" cy="281" r="1.2" fill="#000" stroke="none"/>
</g>
<!-- bottles -->
<g id="bottles" stroke="#000" fill="none" stroke-linejoin="round" stroke-linecap="round">
<path d="M782.5 246 L782.5 209 C786 205.5 790 204.6 793.3 204.6 C798 204.6 802 205.5 805.5 208.3 L806.7 245.8" stroke-width="2.6"/>
<path d="M782.5 245 C786 249 790 250.2 794 250.2 C799 250.2 803 248.5 806.7 245.8" stroke-width="2.4"/>
<path d="M784 215 C790 217.5 798 217.5 803 216" stroke-width="0.8" stroke="#888"/>
<path d="M788 211 L792 211 M796 210 L799 211" stroke-width="1.2" stroke="#333"/>
<path d="M802 228 C797 228 793 232 794 236 C795 238 797 238 799 240 L800 241" stroke-width="1.8"/>
<path d="M780.4 247 L780.4 268.3" stroke-width="2.6"/>
<path d="M779.5 270 L779 282.5" stroke-width="0.9" stroke="#666" stroke-dasharray="2 2"/>
<path d="M779 282.5 C782 288 786 290 790.8 290 C798 290 805 287 809 284" stroke-width="2.2"/>
<path d="M809 284 L809 250" stroke-width="0.9" stroke="#777" stroke-dasharray="3 2"/>
<path d="M782.5 251.7 Q794 254.5 805.8 253.3" stroke-width="0.9" stroke="#555"/>
<path d="M808 241 L808 206 C810 203 814 200 820 200 C826 200 830 202 832.5 205 L832.5 248" stroke-width="2.6"/>
<path d="M809 207.5 C813 211 817 211.7 820 211.7 C825 211.7 828 210.5 830 209" stroke-width="1.8"/>
<path d="M815 205.5 Q820 203 826 206" stroke-width="1.8"/>
<path d="M809 240 C813 242 817 242.5 820 242.5 C825 242.5 828 241 830.8 239" stroke-width="2"/>
<path d="M813 217.5 Q820 218.5 828 216" stroke-width="0.8" stroke="#888"/>
<path d="M832 249 L832 277.5" stroke-width="2.4"/>
<path d="M811.7 279 C815 280.5 818 281 821.7 281 C826 281 829 279.5 832 277.5" stroke-width="2.4"/>
<path d="M828 276 L831 278" stroke-width="3.5"/>
<path d="M810 248 L812 262 L811 279" stroke-width="1.2" stroke="#333" stroke-dasharray="3 1.5"/>
<path d="M793.2 273.0 l0.3 2.4 M794.7 274.0 l-0.0 1.1 M798.0 281.0 l0.6 0.8 M783.4 281.5 l2.0 0.3 M807.5 286.8 l-0.7 1.8 M785.3 254.5 l1.7 0.3 M786.1 262.2 l0.1 0.8 M792.9 282.6 l-0.7 1.5 M794.5 276.5 l1.0 1.2 M807.9 287.9 l-1.4 1.8 M789.5 261.8 l1.3 0.3 M801.7 267.6 l0.8 2.1 M806.9 282.8 l0.6 0.5 M805.6 270.0 l0.8 2.3 M783.0 275.4 l1.4 1.6 M783.4 265.3 l-1.8 1.7 M784.2 262.4 l1.0 0.2 M802.5 260.0 l0.3 1.7 M786.1 278.9 l-0.4 0.9 M784.1 268.3 l0.8 0.9 M807.2 281.3 l-1.2 0.5 M786.7 267.4 l-1.0 2.0 M783.7 287.6 l0.8 0.8 M801.9 265.2 l1.3 0.3 M783.4 273.8 l-0.4 1.2 M791.0 269.4 l0.1 2.4 M796.5 283.5 l1.0 0.5 M805.5 281.8 l1.0 0.7 M801.0 286.0 l-1.1 0.2 M804.8 274.5 l1.4 0.5 M782.0 286.7 l-0.7 1.0 M787.9 282.0 l1.1 1.4 M785.7 278.5 l0.7 0.6 M796.1 283.0 l1.2 1.4 M805.8 260.9 l0.5 0.6 M793.0 256.1 l0.4 1.0 M796.4 258.5 l-1.3 0.5 M807.5 276.3 l-0.5 1.9 M784.8 255.2 l-0.8 0.2 M799.9 286.7 l-0.3 0.8 M794.0 278.8 l-1.3 0.0 M783.0 272.6 l-2.0 0.6 M800.9 277.9 l-2.1 0.6 M790.5 277.3 l-2.1 0.9 M792.3 280.9 l-0.5 2.2 " stroke-width="0.9" stroke="#555"/>
<path d="M823.9 258.2 l-0.7 2.0 M813.5 266.5 l-2.8 1.1 M825.8 258.4 l-0.6 2.3 M820.4 272.8 l-0.7 0.7 M812.6 265.2 l1.4 1.2 M825.3 261.9 l-2.1 0.5 M816.9 246.4 l-0.8 1.2 M815.8 251.4 l-1.3 2.4 M820.4 274.5 l-0.8 1.3 M815.8 259.8 l-2.5 0.7 M828.7 258.3 l1.1 1.7 M814.6 261.9 l-2.3 1.2 M825.5 276.4 l1.2 0.7 M820.6 254.8 l0.3 1.2 M823.9 261.8 l-1.3 0.7 M830.7 260.5 l1.0 0.1 M828.6 247.3 l-0.5 2.3 M817.9 271.3 l0.8 0.3 M820.6 246.8 l1.9 1.8 M814.7 247.5 l0.4 2.2 M824.0 267.0 l-2.6 0.3 M825.0 252.4 l1.6 1.0 M812.2 261.1 l2.0 1.3 M817.2 257.1 l-0.1 2.3 M823.7 270.2 l-1.3 1.0 M829.2 248.8 l-1.8 2.2 M814.5 260.5 l-2.1 0.6 M819.2 264.2 l-2.2 1.6 M829.9 260.8 l1.8 1.3 M825.7 272.2 l-1.4 1.7 M816.1 274.8 l-2.9 0.2 M822.2 271.3 l-1.4 0.4 M828.3 257.2 l0.2 1.0 M822.5 270.6 l1.9 0.2 M827.4 248.0 l2.2 1.3 " stroke-width="1" stroke="#444"/>
<path d="M820 260 L826 261 M818 266 L822 263 M824 268 L827 271" stroke-width="2" stroke="#111"/>
</g>
<!-- tray -->
<g id="tray" stroke="#000" fill="none" stroke-linejoin="round" stroke-linecap="round">
<path d="M579 414 Q579 407 586 404 L744 352" stroke-width="1" stroke="#666"/>
<path d="M744 352 L793 391 Q800 395 799.5 400 L799 407 Q798 410 793.8 411.5 L637 473 Q630 473 626 470 L581 428 L579.5 418" stroke-width="2.4"/>
<path d="M579.5 416 Q580 423 582 425 L629 460 Q635 462 641 461 L797 404" stroke-width="0.9" stroke="#777"/>
<path d="M655 380 L679 372" stroke-width="3.2"/>
<path d="M588 411 L685 377" stroke-width="0.9" stroke="#777"/>
<path d="M590 413 L622 442 L688 417 M686 418 L720 405 M684 375 L720 405" stroke-width="2"/>
<path d="M598 412 L624 433 M624 436 L700 408" stroke-width="0.8" stroke="#999"/>
<path d="M606 413 L634 435" stroke-width="1.8"/>
<path d="M645 419 L676 407" stroke-width="1.8"/>
<path d="M644 419 Q651 424 652 431" stroke-width="1.4"/>
<path d="M622 416 L630 413 L636 416 L632 419 M634 408 L637 411" stroke-width="1.3"/>
<path d="M616 404 L622 402 M627 400 L635 397 L640 403 L642 405" stroke-width="1.2"/>
<path d="M647 403 L681 389" stroke-width="0.8" stroke="#666"/>
<path d="M609 410 L610 411" stroke-width="2"/>
<path d="M684.3 374.7 L742.8 411.5 L792.7 391" stroke-width="2.2"/>
<path d="M744 352 L743 360.6 L780.8 392" stroke-width="1" stroke="#888"/>
<path d="M690.8 373.6 L739.6 414.8" stroke-width="0.8" stroke="#999"/>
<path d="M724.7 378 C726 381 730 384 737.3 388 L746.7 394.7 L758.7 402.7" stroke-width="2.2"/>
<path d="M738 378.7 L744 376.7 L746.7 379.3 L752 380.7 L756 384 L768 390.7 L773.3 394.7 L774.7 398.7 L766.7 401.3 L761.3 403.3" stroke-width="1.8"/><circle cx="744" cy="377.5" r="1.6" fill="#000" stroke="none"/><path d="M747 386 L750 386 M752 391 L755 392 M758 395 L761 397" stroke-width="1.3" stroke="#444"/>
<path d="M734.7 395.3 L737.3 394.7 L740 398.7 L745.3 402.7 L741.3 409.3 M748 403 L750 405" stroke-width="1.8"/><circle cx="704.5" cy="376" r="1.4" fill="#000" stroke="none"/><path d="M705 377 L710 379" stroke-width="1" stroke="#555"/>
</g>
<!-- unicorn -->
<g id="uni" stroke="#000" fill="none" stroke-linejoin="round" stroke-linecap="round">
<path d="M931.3 432.8 C938.3 435.7 962.4 443.5 973.3 450.3 C984.2 457.1 991.1 466.3 996.7 473.7 C1002.4 481.1 1004.7 485.1 1007.2 494.7 C1009.7 504.3 1010.8 518.2 1011.7 531.2 C1012.6 544.3 1012.9 561.5 1012.7 573.0 C1012.5 584.5 1011.1 594.4 1010.3 600.0 C1009.5 605.6 1008.3 602.9 1008.1 606.5 C1007.9 610.1 1009.4 616.7 1009.2 621.7 C1009.0 626.8 1008.8 632.1 1007.0 636.8 C1005.2 641.5 1002.3 645.9 998.3 649.8 C994.3 653.7 985.7 658.3 983.2 660.0" stroke-width="1.8"/>
<path d="M896.5 646.6 C901.5 646.6 918.8 644.6 926.8 646.6 C934.8 648.6 938.6 655.6 944.2 658.5 C949.8 661.4 955.0 663.3 960.4 664.0 C965.8 664.7 972.9 663.5 976.7 662.8 C980.5 662.1 982.1 660.5 983.2 660.0" stroke-width="2.3"/>
<path d="M896.5 646 L907 647 L902 653.5 Z" fill="#000" stroke-width="1"/>
<path d="M958.2 667.2 C959.5 668.5 962.7 673.5 965.8 674.8 C968.9 676.0 973.8 676.0 976.7 674.8 C979.6 673.5 982.1 669.5 983.2 667.2 C984.3 664.9 983.2 661.8 983.2 660.7" stroke-width="1.5" stroke="#222"/>
<path d="M920.0 560.4 C919.0 559.5 915.3 558.0 913.8 555.2 C912.2 552.4 910.6 547.7 910.6 543.8 C910.6 539.8 912.0 534.2 913.8 531.2 C915.5 528.3 918.0 526.5 921.0 526.0 C924.0 525.5 927.8 526.2 931.5 528.0 C935.2 529.8 941.1 535.1 943.0 536.5" stroke-width="1.4" stroke="#222"/>
<path d="M923 538.5 L934.6 545.8 Q928 548 924.2 554.2" stroke-width="1.2" stroke="#333"/>
<path d="M895 543.75 L910.6 544.8" stroke-width="1.2" stroke="#333"/>
<path d="M944 537 L957 531" stroke-width="0.8" stroke="#888" stroke-dasharray="2 1.5"/>
<path d="M956.5 534.4 L970 513.5" stroke-width="2"/>
<path d="M970 513.5 Q974 518 975 522 L975.5 540" stroke-width="0.9" stroke="#888"/>
<path d="M951.2 538.5 C951.9 540.1 953.0 545.8 955.4 548.0 C957.8 550.2 962.7 552.2 965.8 552.0 C968.9 551.8 972.8 547.8 974.2 547.0" stroke-width="1.6" stroke="#111"/>
<path d="M962.7 524 L973 526 M963.7 531.3 L974 534.4 M961.7 536.5 L970 540.6" stroke-width="1.3" stroke="#333"/>
<path d="M978.3 527 L1001.25 507.3 L1005.5 508.3" stroke-width="1.2" stroke="#333"/>
<path d="M1003 502 L1005 508 L1008 509" stroke-width="2.2"/>
<path d="M996 526 L990 538.5 M1006 523 L999 540" stroke-width="1" stroke="#555"/>
<ellipse cx="938.75" cy="596.4" rx="3.2" ry="6" stroke-width="2"/>
<path d="M996 580.2 L999.2 591.7" stroke-width="2.4"/>
<path d="M956 636.8 Q960 636.5 961.5 641.2" stroke-width="2.2"/>
<path d="M989.7 634.7 L992.9 631.4" stroke-width="2.4"/>
<path d="M910.6 558 C904 580 902 605 905 625 M968 572 C972 600 974 630 974 660" stroke-width="0.7" stroke="#aaa"/>
</g>
<!-- text -->
<g fill="none" stroke="#000" stroke-linecap="butt" stroke-linejoin="miter">
<path d="M90.8 632.9 H102.5 L93.7 651.5" stroke-width="3.7"/>
<path d="M119.3 632.8 H110.6 L108.6 642.2" stroke-width="3.6"/>
<path d="M108.8 641.5 Q112 639.6 114.5 639.8 Q118.5 640.3 119.5 645" stroke-width="3.6"/>
<path d="M108.3 646.8 L111.2 651.2" stroke-width="3.5"/>
<path d="M143.28 641.43 A5.75 5.6 0 1 0 143.28 647.37" stroke-width="3.5"/>
<path d="M151.75 651.5 V637.5 M151.75 644.38 A5.12 5.12 0 0 1 162.00 644.38 V651.5 M162.00 644.38 A5.12 5.12 0 0 1 172.25 644.38 V651.5" stroke-width="3.5"/>
<ellipse cx="179.5" cy="933.9" rx="4.75" ry="4.1" stroke-width="3.6"/>
<path d="M182 919.6 L174.6 932.5" stroke-width="3.6"/>
<ellipse cx="196.00" cy="929.48" rx="5.00" ry="8.48" stroke-width="3.5"/>
<path d="M225.98 929.41 A5.75 5.65 0 1 0 225.98 935.39" stroke-width="3.5"/>
<path d="M234.85 939.6 V925.2 M234.85 931.86 A4.91 4.91 0 0 1 244.68 931.86 V939.6 M244.68 931.86 A4.91 4.91 0 0 1 254.50 931.86 V939.6" stroke-width="3.5"/>
<path d="M685.3 871 H689 V891.75 H685.3 V877.6 L681.1 879.8 V876.2 L684.6 871.3 Z" fill="#000" stroke="none"/>
<path d="M697.6 878.6 C697.8 874.6 700.2 872.75 703 872.75 C706.3 872.75 708.2 875 708.2 877.8 C708.2 880.4 706.8 882.2 704.8 884.1 L697.8 890 H710" stroke-width="3.5"/>
<ellipse cx="719.75" cy="881.38" rx="5.25" ry="8.62" stroke-width="3.5"/>
<path d="M750.06 881.20 A5.85 5.75 0 1 0 750.06 887.30" stroke-width="3.5"/>
<path d="M758.75 891.75 V876.75 M758.75 883.38 A4.88 4.88 0 0 1 768.50 883.38 V891.75 M768.50 883.38 A4.88 4.88 0 0 1 778.25 883.38 V891.75" stroke-width="3.5"/>
</g>
<g fill="#fff"><rect x="112.5" y="644.8" width="9" height="8.5"/><path d="M129.5 645.2 L134.7 645.2 L134.7 653 L129.5 653 Z M135.8 645 L139.3 648.6 L142.9 645 Z"/><rect x="159.8" y="645.5" width="3.6" height="7.5" fill-opacity="0.7"/><path d="M167.3 646.4 H175 V653 H172.8 V650.5 H171.5 V653 H167.3 Z"/></g>
</svg>
</body></html>
